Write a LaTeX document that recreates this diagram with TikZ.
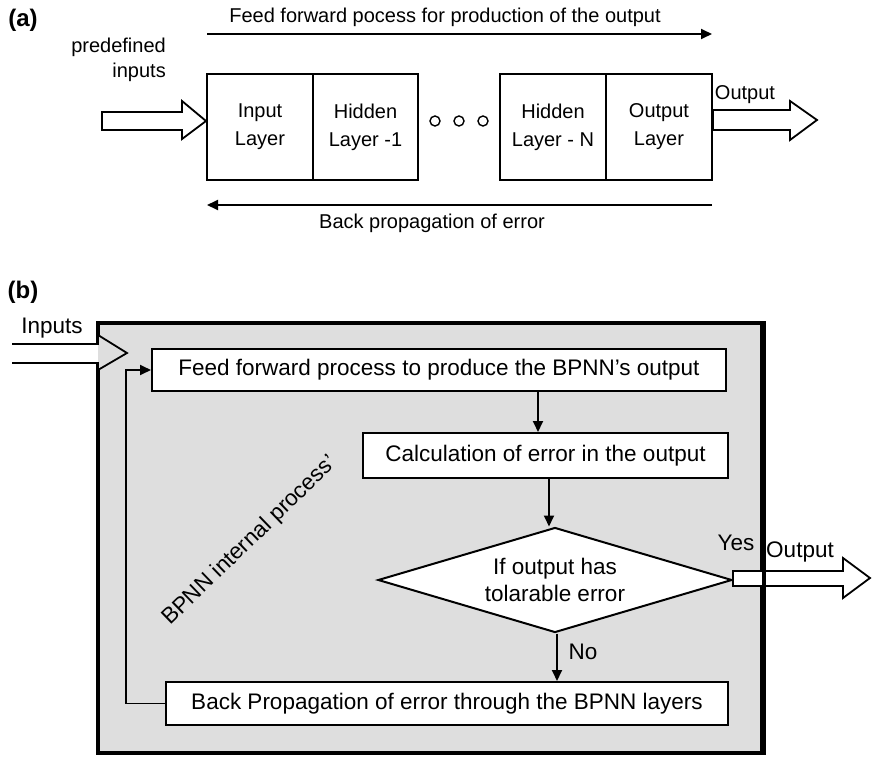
\documentclass[tikz,border=0pt]{standalone}
\usepackage{fontspec}
\setmainfont{Liberation Sans}
\usetikzlibrary{arrows.meta,shapes.geometric,calc}
\newcommand\fa{\fontsize{20}{27}\selectfont}
\newcommand\fb{\fontsize{22.5}{27}\selectfont}
\definecolor{panel}{gray}{0.87}
\tikzset{
  conn/.style={draw, line width=1.8pt, -{Triangle[length=11pt,width=10pt]}},
  cell/.style={draw, line width=2pt, fill=white, minimum width=106pt, minimum height=106pt, inner sep=0pt, align=center, font=\fontsize{20}{28}\selectfont},
  pbox/.style={draw, line width=2pt, fill=white, inner sep=0pt, align=center, font=\fb},
  blk/.style={draw, line width=1.8pt, fill=white, line join=miter},
  lbla/.style={inner sep=0pt, align=center, font=\fa},
  lblb/.style={inner sep=0pt, align=center, font=\fb},
  ttl/.style={inner sep=0pt, font=\bfseries\fontsize{24}{28}\selectfont},
  dot/.style={circle, draw, line width=1.4pt, minimum size=10pt, inner sep=0pt}
}
\begin{document}
\begin{tikzpicture}[x=1pt,y=-1pt]
\useasboundingbox (0,0) rectangle (872,757);
% ---------------- (a) ----------------
\node[ttl] (ta) at (23,20) {(a)};
\node[lbla] (fftxt) at (445,17) {Feed forward pocess for production of the output};
\coordinate (ffs) at (207,34);
\coordinate (ffe) at (712,34);
\draw[conn] (ffs) -- (ffe);
\node[lbla, anchor=east, align=right, font=\fontsize{20}{25}\selectfont] (pin) at (166,60) {predefined\\inputs};
\node[cell] (inl) at (260,127) {Input\\Layer};
\node[cell, minimum width=105pt] (h1) at (365.5,127) {Hidden\\Layer -1};
\node[cell] (hn) at (553,127) {Hidden\\Layer - N};
\node[cell] (outl) at (659,127) {Output\\Layer};
\node[dot] (d1) at (435,121) {};
\node[dot] (d2) at (459,121) {};
\node[dot] (d3) at (483,121) {};
\draw[blk] (102,112) -- (182,112) -- (182,101) -- (inl.west |- 0,121) -- (182,139) -- (182,130) -- (102,130) -- cycle;
\draw[blk] (outl.east |- 0,110) -- (790,110) -- (790,101) -- (817,120) -- (790,140) -- (790,130) -- (outl.east |- 0,130) -- cycle;
\node[lbla] (outa) at (745,95) {Output};
\coordinate (bps) at (712,205);
\coordinate (bpe) at (207,205);
\draw[conn] (bps) -- (bpe);
\node[lbla] (bptxt) at (432,223) {Back propagation of error};
% ---------------- (b) ----------------
\node[ttl] (tb) at (23,292) {(b)};
\node[draw, line width=3.5pt, fill=panel, minimum width=664pt, minimum height=430pt, inner sep=0pt] (frame) at (430,538) {};
% inputs arrow
\fill[white] (95,345) rectangle (98,362);
\fill[panel] (98,335) -- (127,353) -- (98,370) -- cycle;
\fill[panel] (97.5,345) rectangle (101,362);
\draw[line width=1.8pt, line join=miter] (12,344) -- (98,344) -- (98,335) -- (127,353) -- (98,370) -- (98,363) -- (12,363);
\node[lblb] (inb) at (52,328) {Inputs};
\node[pbox, minimum width=574pt, minimum height=42pt] (ff) at (439,370) {Feed forward process to produce the BPNN's output};
\node[pbox, minimum width=365pt, minimum height=45pt] (calc) at (545.5,455.5) {Calculation of error in the output};
\node[diamond, draw, line width=2pt, fill=white, inner sep=0pt, aspect=3.37, minimum width=354pt, minimum height=105pt, align=center, font=\fb] (dia) at (555,580) {If output has\\tolarable error};
\node[pbox, minimum width=562pt, minimum height=43pt] (bp) at (447,703.5) {Back Propagation of error through the BPNN layers};
\draw[conn] ([xshift=99pt]ff.south) -- ([xshift=-7.5pt]calc.north);
\draw[conn] ([xshift=3.5pt]calc.south) -- ([xshift=3.5pt]calc.south |- dia.north);
\draw[conn] ([xshift=2pt]dia.south) -- ([xshift=2pt]dia.south |- bp.north);
\node[lblb] (no) at (583,652) {No};
\draw[conn] (bp.west) -- ++(-39,0) |- (ff.west);
\node[lblb] (yes) at (736,543) {Yes};
\draw[blk] (dia.east |- 0,571) -- (843,571) -- (843,558) -- (870,578) -- (843,598) -- (843,586) -- (dia.east |- 0,586) -- cycle;
\draw[line width=3.5pt] (frame.north east) -- (frame.south east);
\node[lblb] (outb) at (800,552) {Output};
\node[lblb, rotate=44] (intl) at (250,541) {BPNN internal process'};
\end{tikzpicture}
\end{document}
